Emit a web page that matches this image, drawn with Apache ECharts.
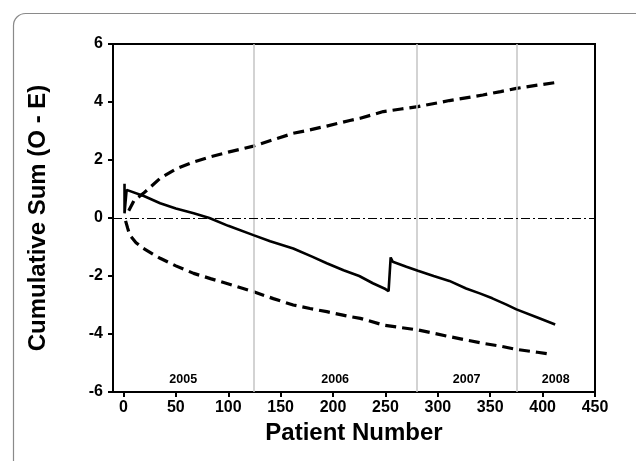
<!DOCTYPE html>
<html>
<head>
<meta charset="utf-8">
<script src="https://cdn.jsdelivr.net/npm/echarts@6/dist/echarts.min.js"></script>
<style>html,body{margin:0;padding:0;background:#fff}#c{width:636px;height:461px}</style>
</head>
<body>
<div id="c"></div>
<script>
// Cumulative sum observed - expected
var cusum = [[1,1.18],[1,0.16],[3,0.97],[20,0.75],[35,0.51],[50,0.33],[67,0.16],[82,0.0],[100,-0.27],[124,-0.59],[140,-0.8],[162,-1.05],[180,-1.33],[194,-1.56],[210,-1.8],[225,-2.0],[238,-2.25],[250,-2.45],[253,-2.52],[255,-1.36],[257,-1.51],[270,-1.68],[281,-1.82],[296,-2.0],[311,-2.17],[327,-2.43],[340,-2.6],[352,-2.77],[365,-2.98],[375,-3.15],[395,-3.43],[412,-3.67]];
// Upper control limit
var upper = [[5,0.25],[10,0.6],[19,0.85],[35,1.37],[51,1.71],[66,1.92],[83,2.11],[100,2.27],[124,2.48],[143,2.7],[162,2.92],[178,3.04],[194,3.17],[216,3.36],[226,3.44],[248,3.67],[265,3.76],[281,3.84],[311,4.05],[343,4.24],[360,4.36],[375,4.47],[395,4.58],[412,4.67]];
// Lower control limit
var lower = [[2,-0.1],[4,-0.35],[6,-0.59],[12,-0.85],[19,-1.05],[35,-1.39],[50,-1.65],[67,-1.91],[83,-2.09],[98,-2.25],[124,-2.54],[143,-2.78],[162,-3.0],[178,-3.12],[194,-3.23],[216,-3.4],[226,-3.46],[248,-3.69],[265,-3.78],[281,-3.86],[311,-4.09],[343,-4.32],[360,-4.42],[375,-4.53],[395,-4.63],[408,-4.70]];
// Year boundaries (patient numbers) and labels
var yearBounds = [124, 280, 375];
var yearSpans = [[-10,124],[124,280],[280,375],[375,450]];
var yearLabels = ['2005','2006','2007','2008'];
var xTicks = [0,50,100,150,200,250,300,350,400,450];
var yTicks = [-6,-4,-2,0,2,4,6];

var chart = echarts.init(document.getElementById('c'), null, {renderer:'canvas'});
var F = 'Liberation Sans, Arial, sans-serif';
chart.setOption({
  animation:false,
  backgroundColor:'#fff',
  graphic:[{type:'rect',shape:{x:13.5,y:13.5,width:640,height:470,r:12},style:{fill:'none',stroke:'#8a8a8a',lineWidth:1.2},z:-1}],
  grid:{left:113,right:41,top:44,bottom:69,show:true,borderColor:'#000',borderWidth:2,backgroundColor:'transparent'},
  xAxis:{type:'value',min:-10,max:450,
    name:'Patient Number',nameLocation:'middle',nameGap:27,
    nameTextStyle:{fontFamily:F,fontWeight:'bold',fontSize:24,color:'#000',verticalAlign:'top'},
    axisLine:{show:true,onZero:false,lineStyle:{color:'#000',width:2}},
    axisTick:{show:true,inside:false,length:5,customValues:xTicks,lineStyle:{color:'#000',width:2}},
    axisLabel:{customValues:xTicks,fontFamily:F,fontWeight:'bold',fontSize:16,color:'#000',margin:8},
    splitLine:{show:false}},
  yAxis:{type:'value',min:-6,max:6,interval:2,
    name:'Cumulative Sum (O - E)',nameLocation:'middle',nameGap:63,
    nameTextStyle:{fontFamily:F,fontWeight:'bold',fontSize:24,color:'#000'},
    axisLine:{show:true,onZero:false,lineStyle:{color:'#000',width:2}},
    axisTick:{show:true,length:5,lineStyle:{color:'#000',width:2}},
    axisLabel:{fontFamily:F,fontWeight:'bold',fontSize:16,color:'#000',margin:10},
    splitLine:{show:false}},
  series:[
    {type:'line',data:cusum,showSymbol:false,symbol:'none',lineStyle:{color:'#000',width:2.6},z:5,
     markLine:{silent:true,symbol:'none',label:{show:false},
       data:yearBounds.map(function(v){return {xAxis:v,lineStyle:{color:'#c4c4c4',width:1.5,type:'solid'}};}).concat([
         {yAxis:0,lineStyle:{color:'#000',width:1,type:[9,3,2,3]}}])},
     markArea:{silent:true,itemStyle:{color:'rgba(0,0,0,0)'},
       label:{position:'insideBottom',distance:6,fontFamily:F,fontWeight:'bold',fontSize:12.5,color:'#000'},
       data:yearSpans.map(function(s,i){return [{xAxis:s[0],yAxis:-6,name:yearLabels[i]},{xAxis:s[1],yAxis:6}];})}
    },
    {type:'line',data:upper,showSymbol:false,symbol:'none',lineStyle:{color:'#000',width:3.2,type:[11,6]},z:4},
    {type:'line',data:lower,showSymbol:false,symbol:'none',lineStyle:{color:'#000',width:3.2,type:[11,6]},z:4}
  ]
});
</script>
</body>
</html>
